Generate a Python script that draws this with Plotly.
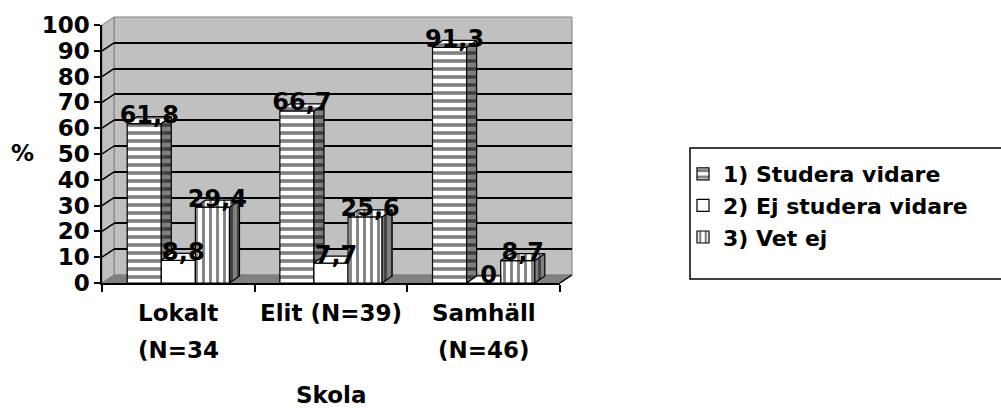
import plotly.graph_objects as go

# ---- data -------------------------------------------------------------
categories = ["Lokalt<br>(N=34", "Elit (N=39)", "Samhäll<br>(N=46)"]
series_names = ["1) Studera vidare", "2) Ej studera vidare", "3) Vet ej"]
studera_vidare = [61.8, 66.7, 91.3]
ej_studera_vidare = [8.8, 7.7, 0]
vet_ej = [29.4, 25.6, 8.7]
y_ticks = list(range(0, 101, 10))

series_values = [studera_vidare, ej_studera_vidare, vet_ej]

# ---- geometry (pixels) ------------------------------------------------
W, H = 1001, 408
LEFT, RIGHT, TOP, BOTTOM = 102, 572, 17, 283
WALL_DX, WALL_DY = 12, 8          # depth of the chart walls
BAR_DX, BAR_DY = 10, 7            # depth of each bar
PW, PH = RIGHT - LEFT, BOTTOM - TOP

front_x = [0, (PW - WALL_DX) / PW]
front_y = [0, (PH - WALL_DY) / PH]
back_x = [WALL_DX / PW, 1]
back_y = [WALL_DY / PH, 1]

def px(x):
    return (x - LEFT) / PW

def py(y):
    return (BOTTOM - y) / PH

n_cat = len(categories)
cat_px = (PW - WALL_DX) / n_cat
unit_px = (PH - WALL_DY) / 100.0
BARGAP = 0.33
bw = (1 - BARGAP) / len(series_values)
dx = BAR_DX / cat_px
dy = BAR_DY / unit_px

def font(size):
    return dict(family="DejaVu Sans", size=size, color="black", weight="bold")

styles = [
    dict(shape="-", size=8, solidity=0.45),
    dict(shape="", size=8, solidity=0.3),
    dict(shape="|", size=7, solidity=0.4),
]

fig = go.Figure()

# empty trace so the back-wall subplot exists
fig.add_trace(go.Scatter(x=[], y=[], xaxis="x", yaxis="y", showlegend=False, hoverinfo="skip"))

# front faces of the bars
for name, vals, st in zip(series_names, series_values, styles):
    fig.add_trace(go.Bar(
        x=list(range(n_cat)), y=vals, name=name,
        xaxis="x2", yaxis="y2",
        marker=dict(color="white", line=dict(color="black", width=1.2),
                    pattern=dict(shape=st["shape"], size=st["size"], solidity=st["solidity"],
                                 fgcolor="black", bgcolor="white")),
    ))

# side and top faces, painted back to front within each group
def poly(xs, ys, fill, st):
    fig.add_trace(go.Scatter(
        x=xs + [xs[0]], y=ys + [ys[0]], xaxis="x2", yaxis="y2",
        mode="lines", fill="toself", fillcolor=fill,
        fillpattern=dict(shape=st["shape"], size=st["size"], solidity=st["solidity"],
                         fgcolor="black", bgcolor=fill) if st["shape"] else None,
        line=dict(color="black", width=1.2), showlegend=False, hoverinfo="skip",
    ))

n_ser = len(series_values)
for c in range(n_cat):
    for s in range(n_ser):
        v = series_values[s][c]
        v_next = series_values[s + 1][c] if s + 1 < n_ser else 0
        x0 = c - (1 - BARGAP) / 2 + s * bw
        x1 = x0 + bw
        # side face (only the part not hidden by the next bar)
        if v > v_next:
            poly([x1, x1, x1 + dx, x1 + dx], [v_next, v, v + dy, v_next + dy], "#808080", styles[s])
        # top face
        if s + 1 < n_ser and v_next >= v + dy:
            poly([x0, x1, x1, x0 + dx], [v, v, v + dy, v + dy], "white", styles[s])
        else:
            poly([x0, x1, x1 + dx, x0 + dx], [v, v, v + dy, v + dy], "white", styles[s])

# value labels
def fmt(v):
    return str(int(v)) if float(v).is_integer() else f"{v:.1f}".replace(".", ",")

lift = 3 / unit_px
for s, vals in enumerate(series_values):
    xs = [c - (1 - BARGAP) / 2 + s * bw + bw / 2 + dx / 2 for c in range(n_cat)]
    ys = [v + dy / 2 + lift for v in vals]
    fig.add_trace(go.Scatter(
        x=xs, y=ys, xaxis="x2", yaxis="y2", mode="text",
        text=[fmt(v) for v in vals], textposition="middle center",
        textfont=font(24), cliponaxis=False, showlegend=False, hoverinfo="skip",
    ))

# ---- walls and floor --------------------------------------------------
shapes = []
# back wall
shapes.append(dict(type="rect", xref="paper", yref="paper", layer="below",
                   x0=back_x[0], x1=back_x[1], y0=back_y[0], y1=back_y[1],
                   fillcolor="#c0c0c0", line=dict(color="#808080", width=1)))
# side wall
shapes.append(dict(type="path", xref="paper", yref="paper", layer="below",
                   path=f"M0,0 L0,{front_y[1]} L{back_x[0]},1 L{back_x[0]},{back_y[0]} Z",
                   fillcolor="#c0c0c0", line=dict(color="#808080", width=1)))
# floor
shapes.append(dict(type="path", xref="paper", yref="paper", layer="below",
                   path=f"M0,0 L{front_x[1]},0 L1,{back_y[0]} L{back_x[0]},{back_y[0]} Z",
                   fillcolor="#808080", line=dict(color="#808080", width=1)))
shapes.append(dict(type="line", xref="paper", yref="paper", layer="below",
                   x0=front_x[1], y0=0, x1=1, y1=back_y[0], line=dict(color="black", width=1.5)))
# grid lines running across the side wall
for t in y_ticks[1:-1]:
    shapes.append(dict(type="line", xref="paper", yref="paper", layer="below",
                       x0=0, y0=front_y[1] * t / 100,
                       x1=back_x[0], y1=back_y[0] + (1 - back_y[0]) * t / 100,
                       line=dict(color="black", width=1.5)))
# legend frame
shapes.append(dict(type="rect", xref="paper", yref="paper", layer="below",
                   x0=px(690), x1=px(1012), y0=py(279), y1=py(148),
                   fillcolor="white", line=dict(color="black", width=1.5)))

# ---- category labels, axis titles ------------------------------------
annotations = []
for c, label in enumerate(categories):
    for k, line in enumerate(label.split("<br>")):
        annotations.append(dict(x=c, y=0, xref="x2", yref="y2", text=line, showarrow=False,
                                xanchor="center", yanchor="middle", yshift=-30 - 37 * k,
                                font=font(23)))
annotations.append(dict(x=px(22), y=py(153), xref="paper", yref="paper", text="%",
                        showarrow=False, xanchor="center", yanchor="middle", font=font(23)))
annotations.append(dict(x=(front_x[0] + front_x[1]) / 2, y=py(395), xref="paper", yref="paper",
                        text="Skola", showarrow=False, xanchor="center", yanchor="middle",
                        font=font(23)))

fig.update_layout(
    width=W, height=H,
    margin=dict(l=LEFT, r=W - RIGHT, t=TOP, b=H - BOTTOM, autoexpand=False),
    paper_bgcolor="white", plot_bgcolor="rgba(0,0,0,0)",
    font=font(22),
    barmode="group", bargap=BARGAP, bargroupgap=0,
    shapes=shapes, annotations=annotations,
    showlegend=True,
    legend=dict(x=px(683), y=py(153), xanchor="left", yanchor="top",
                bgcolor="rgba(0,0,0,0)", borderwidth=0, font=font(22),
                itemwidth=30, tracegroupgap=0),
    # back wall subplot (grid only)
    xaxis=dict(domain=back_x, anchor="y", range=[-0.5, n_cat - 0.5], visible=False),
    yaxis=dict(domain=back_y, anchor="x", range=[0, 100], tickvals=y_ticks[1:-1],
               showgrid=True, gridcolor="black", gridwidth=1.5, showticklabels=False,
               ticks="", showline=False, zeroline=False),
    # front subplot with the bars and the visible axes
    xaxis2=dict(domain=front_x, anchor="y2", range=[-0.5, n_cat - 0.5],
                tickvals=[i - 0.5 for i in range(n_cat + 1)], ticks="outside", ticklen=7,
                tickwidth=1.5, tickcolor="black", showticklabels=False, showgrid=False,
                zeroline=False, showline=True, linecolor="black", linewidth=1.5),
    yaxis2=dict(domain=front_y, anchor="x2", range=[0, 100], tickvals=y_ticks,
                ticks="outside", ticklen=6, tickwidth=1.5, tickcolor="black",
                showgrid=False, zeroline=False, showline=True, linecolor="black",
                linewidth=1.5, tickfont=font(23)),
)

fig.write_html("out.html")
